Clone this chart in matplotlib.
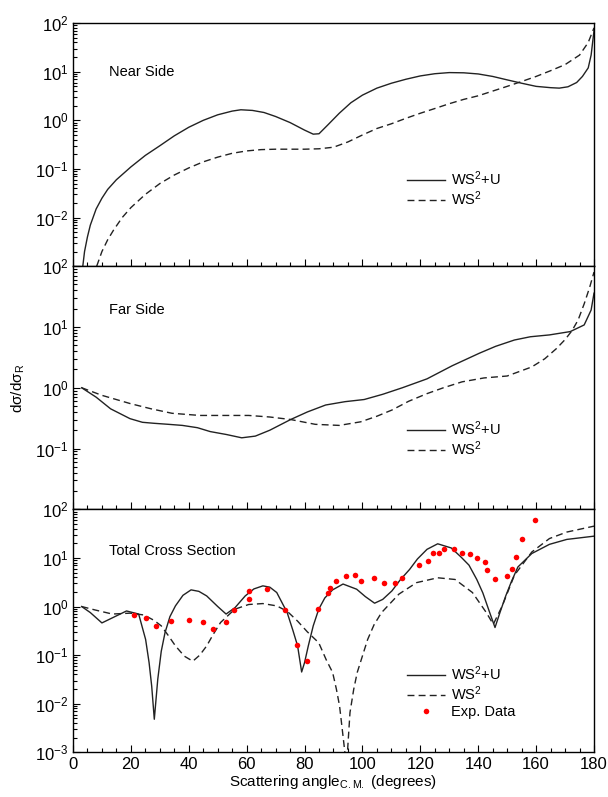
import numpy as np
import matplotlib
matplotlib.use("Agg")
import matplotlib.pyplot as plt
from matplotlib.ticker import MultipleLocator, LogLocator, NullFormatter

plt.rcParams['font.family'] = ['Liberation Sans', 'DejaVu Sans']
plt.rcParams['mathtext.fontset'] = 'custom'
plt.rcParams['mathtext.rm'] = 'Liberation Sans'
plt.rcParams['mathtext.default'] = 'regular'
plt.rcParams['font.size'] = 10

# Near side
near_u_x = [3.4, 4, 5, 6, 8, 10, 12, 15, 20, 25, 30, 35, 40, 45, 50, 55, 58, 62, 66, 70,
            75, 80, 83, 85, 88, 92, 96, 100, 105, 110, 115, 120, 125, 130, 135, 140, 145,
            150, 155, 160, 165, 168, 171, 174, 176, 178, 179, 180]
near_u_y = [0.001, 0.002, 0.004, 0.007, 0.015, 0.025, 0.038, 0.06, 0.11, 0.19, 0.3, 0.48,
            0.72, 1.0, 1.3, 1.55, 1.65, 1.6, 1.45, 1.2, 0.9, 0.63, 0.52, 0.53, 0.8, 1.4,
            2.3, 3.3, 4.6, 5.8, 7.0, 8.2, 9.1, 9.6, 9.5, 9.0, 8.0, 6.8, 5.8, 5.0, 4.7, 4.6,
            4.9, 6.0, 8.0, 12, 22, 70]
near_ws_x = [8.2, 10, 12, 14, 17, 20, 25, 30, 35, 40, 45, 50, 55, 60, 65, 70, 75, 80, 85,
             90, 95, 100, 105, 110, 115, 120, 125, 130, 135, 140, 145, 150, 155, 160, 165,
             170, 175, 178, 180]
near_ws_y = [0.001, 0.002, 0.0035, 0.0055, 0.01, 0.016, 0.03, 0.05, 0.075, 0.105, 0.14,
             0.175, 0.21, 0.235, 0.25, 0.255, 0.255, 0.255, 0.26, 0.28, 0.36, 0.5, 0.68,
             0.85, 1.1, 1.4, 1.75, 2.2, 2.7, 3.2, 4.0, 5.0, 6.3, 8.0, 10.5, 14, 22, 40, 80]

# Far side
far_u_x = [3, 8, 13, 19.7, 24, 28, 33, 37.8, 43, 47.4, 53, 58.3, 63, 68, 75.2, 81, 87.3,
           94, 100.6, 107, 113.8, 122.3, 131, 140.4, 146, 152.5, 158, 164.6, 171.8,
           176.6, 179, 180]
far_u_y = [1.0, 0.7, 0.45, 0.31, 0.27, 0.26, 0.25, 0.24, 0.22, 0.19, 0.17, 0.15, 0.16,
           0.2, 0.3, 0.4, 0.52, 0.59, 0.64, 0.78, 1.0, 1.4, 2.3, 3.7, 4.8, 6.1, 6.9, 7.4,
           8.4, 10.8, 19, 36]
far_ws_x = [3, 10, 19.7, 27, 34.2, 43.8, 52, 60.7, 68, 75.2, 83.7, 92, 99.4, 105, 110.2,
            116, 122.3, 128, 134.4, 142, 150, 158.5, 163, 167, 170, 172.4, 174.5, 176.6,
            178.5, 180]
far_ws_y = [1.0, 0.75, 0.55, 0.45, 0.38, 0.35, 0.35, 0.35, 0.33, 0.30, 0.25, 0.24, 0.275,
            0.34, 0.43, 0.6, 0.8, 1.0, 1.25, 1.45, 1.56, 2.2, 3.0, 4.4, 6.2, 8.7, 13, 24,
            45, 80]

# Total cross section
tot_u_x = [3, 6, 10, 14, 18.5, 22.7, 25.1, 26.3, 27.2, 28.1, 29.3, 30.5, 31.8, 33.5,
           35.4, 38, 40.8, 43.5, 46.2, 50, 52.9, 56, 59.5, 62.5, 65.6, 68, 70.4, 74,
           76, 77.6, 79, 80, 81.3, 83, 84.9, 87, 89.7, 93.3, 98, 101, 104.2, 107,
           110.2, 113, 116.3, 119, 122.3, 126, 130.7, 134, 136.8, 139.5, 141.6, 143.8,
           145.8, 147.5, 149.5, 151.5, 153.7, 158.5, 164.6, 170.6, 180]
tot_u_y = [1.0, 0.75, 0.46, 0.6, 0.81, 0.7, 0.21, 0.07, 0.023, 0.0048, 0.032, 0.12,
           0.29, 0.62, 1.03, 1.7, 2.2, 2.05, 1.65, 1.0, 0.7, 0.95, 1.65, 2.3, 2.66, 2.5,
           1.94, 0.75, 0.32, 0.155, 0.045, 0.07, 0.155, 0.4, 0.88, 1.5, 2.2, 2.9, 2.27,
           1.6, 1.17, 1.4, 2.1, 3.5, 5.8, 9.5, 15, 19.5, 16, 10.5, 7.1, 3.6, 1.9, 0.8,
           0.37, 0.75, 1.65, 3.3, 6.5, 12.3, 19, 24, 28]
tot_ws_x = [3, 7.6, 13.6, 19.7, 24.5, 28, 30.5, 33, 35.4, 38.5, 41.4, 43.8, 46.2, 48.5,
            51, 55.9, 60.7, 65.6, 70.4, 74, 77.6, 81, 84.9, 87.5, 89.7, 91, 92.1, 93.6,
            94.5, 95.7, 97, 98.2, 101.8, 104, 106.6, 112.6, 118.7, 126, 132, 138, 142.8,
            145.2, 148.3, 152.5, 158.5, 164.6, 170.6, 180]
tot_ws_y = [1.0, 0.85, 0.7, 0.73, 0.67, 0.52, 0.4, 0.25, 0.155, 0.095, 0.075, 0.1, 0.155,
            0.27, 0.47, 0.88, 1.1, 1.15, 1.03, 0.8, 0.5, 0.3, 0.18, 0.08, 0.044, 0.02,
            0.009, 0.0015, 0.0005, 0.0066, 0.02, 0.044, 0.21, 0.42, 0.75, 1.8, 3.1, 3.9,
            3.6, 1.94, 0.75, 0.43, 1.03, 4.4, 13.2, 25, 34, 45]

exp_x = [21.1, 25.1, 28.7, 33.9, 40.2, 45.0, 48.4, 52.9, 55.7, 60.7, 60.7, 67.0, 73.4,
         77.4, 81.0, 84.6, 88.1, 88.7, 90.9, 94.3, 97.5, 99.6, 103.9, 107.6, 111.2,
         113.8, 119.6, 122.5, 124.5, 126.3, 128.3, 131.7, 134.4, 137.0, 139.6, 142.5,
         143.1, 145.8, 150.1, 151.6, 153.1, 155.1, 159.5]
exp_y = [0.66, 0.57, 0.40, 0.51, 0.52, 0.47, 0.34, 0.47, 0.84, 1.41, 2.07, 2.27, 0.84,
         0.163, 0.077, 0.91, 1.88, 2.46, 3.37, 4.27, 4.4, 3.37, 3.94, 3.11, 3.11, 3.94,
         7.18, 8.55, 12.9, 12.9, 15.1, 15.1, 12.9, 11.9, 9.84, 8.41, 5.58, 3.65, 4.27,
         6.04, 10.6, 25, 60]

panel_titles = ['Near Side', 'Far Side', 'Total Cross Section']
ylims = [(1e-3, 1e2), (1e-2, 1e2), (1e-3, 1e2)]

lw = 1.0
col = '#222222'
dash = (0, (5, 3))

fig, axes = plt.subplots(3, 1, figsize=(6.08, 7.97), dpi=100, sharex=True)
plt.subplots_adjust(left=0.12, right=0.977, top=0.971, bottom=0.056, hspace=0)

data = [(near_u_x, near_u_y, near_ws_x, near_ws_y),
        (far_u_x, far_u_y, far_ws_x, far_ws_y),
        (tot_u_x, tot_u_y, tot_ws_x, tot_ws_y)]

for i, ax in enumerate(axes):
    ux, uy, wx, wy = data[i]
    ax.plot(ux, uy, color=col, lw=lw, label='WS$^{2}$+U')
    ax.plot(wx, wy, color=col, lw=lw, linestyle=dash, label='WS$^{2}$')
    if i == 2:
        ax.plot(exp_x, exp_y, 'o', color='red', markersize=4, markeredgewidth=0,
                label='Exp. Data')
    ax.set_yscale('log')
    lo, hi = ylims[i]
    ax.set_ylim(lo, hi)
    ax.set_xlim(0, 180)
    exps = list(range(int(np.log10(lo)), int(np.log10(hi)) + 1))
    ax.set_yticks([10.0 ** e for e in exps])
    labels = ['$10^{%d}$' % e for e in exps]
    if i < 2:
        labels[0] = ''
    ax.set_yticklabels(labels)
    ax.yaxis.set_minor_locator(LogLocator(base=10, subs=np.arange(2, 10)))
    ax.yaxis.set_minor_formatter(NullFormatter())
    ax.xaxis.set_major_locator(MultipleLocator(20))
    ax.xaxis.set_minor_locator(MultipleLocator(5))
    ax.tick_params(which='both', direction='in', top=False, right=False)
    ax.tick_params(which='major', length=5, width=0.8, labelsize=12, pad=3)
    ax.tick_params(which='minor', length=3, width=0.8)
    for s in ax.spines.values():
        s.set_linewidth(1.0)
    ax.text(0.07, [0.80, 0.82, 0.83][i], panel_titles[i], transform=ax.transAxes,
            fontsize=10.5, va='center', ha='left')
    leg_y = [0.32, 0.29, 0.25][i]
    ax.legend(loc='center left', bbox_to_anchor=(0.63, leg_y), frameon=False,
              fontsize=10.5, handlelength=2.6, handletextpad=0.4, labelspacing=0.1,
              borderaxespad=0, numpoints=1, markerscale=1.0)

axes[2].set_xlabel('Scattering angle$_{C.M.}$ (degrees)', fontsize=11, labelpad=1)
fig.text(0.03, 0.513, 'dσ/dσ$_{R}$', rotation=90, fontsize=11, va='center', ha='center')

plt.savefig('out.png', dpi=100)
